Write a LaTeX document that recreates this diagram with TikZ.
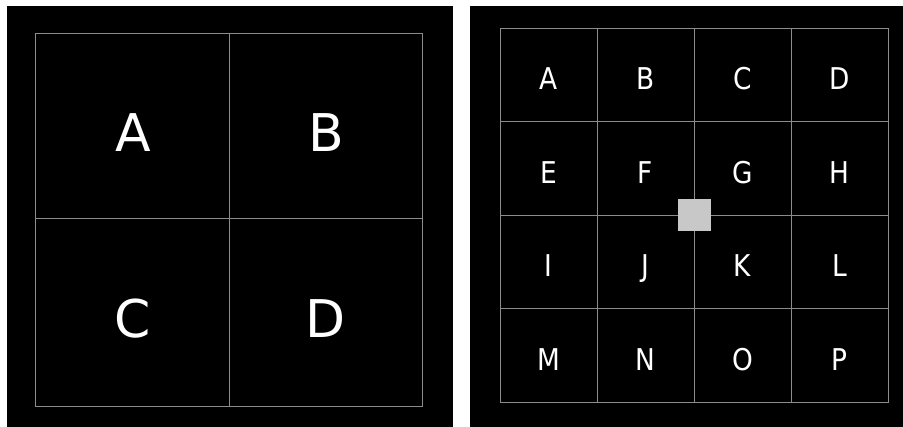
\documentclass[tikz,border=0pt]{standalone}
\usepackage{fontspec}
\setmainfont{DejaVu Sans}
\definecolor{gridgray}{RGB}{140,140,140}
\definecolor{markgray}{RGB}{200,200,200}
\tikzset{
  panel/.style={fill=black, draw=none},
  gridline/.style={draw=gridgray, line width=0.8pt},
  bigletter/.style={text=white, anchor=base, inner sep=0pt, font=\fontsize{52}{52}\selectfont},
  smallletter/.style={text=white, anchor=base, inner sep=0pt, font=\fontsize{30}{30}\selectfont},
}
\begin{document}
\begin{tikzpicture}[x=1pt,y=-1pt]
\useasboundingbox (0,0) rectangle (903,427);
\fill[white] (0,0) rectangle (903,427);
% panels
\fill[panel] (7,6) rectangle (453,427);
\fill[panel] (470,6) rectangle (903,427);
% left grid
\draw[gridline] (35,33) rectangle (422,406);
\draw[gridline] (229,33) -- (229,406);
\draw[gridline] (35,218) -- (422,218);
\node[bigletter] (LA) at (133,152) {A};
\node[bigletter] (LB) at (326,152) {B};
\node[bigletter] (LC) at (133,338) {C};
\node[bigletter] (LD) at (326,338) {D};
% right grid
\draw[gridline] (500,28) rectangle (888,402);
\foreach \x in {597,694,791} \draw[gridline] (\x,28) -- (\x,402);
\foreach \y in {121.5,215,308.5} \draw[gridline] (500,\y) -- (888,\y);
\foreach \t [count=\i from 0] in {A,B,C,D,E,F,G,H,I,J,K,L,M,N,O,P} {
  \pgfmathtruncatemacro{\c}{mod(\i,4)}
  \pgfmathtruncatemacro{\r}{div(\i,4)}
  \pgfmathsetmacro{\cx}{548.5+97*\c}
  \pgfmathsetmacro{\by}{90+93.5*\r}
  \node[smallletter] (R\t) at (\cx,\by) {\scalebox{0.88}[1]{\t}};
}
% marker square
\node[fill=markgray, draw=none, minimum width=33pt, minimum height=32pt, inner sep=0pt] (mark) at (694.5,215) {};
\end{tikzpicture}
\end{document}
